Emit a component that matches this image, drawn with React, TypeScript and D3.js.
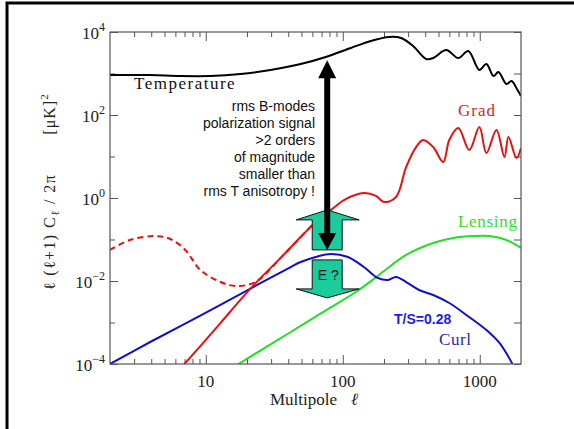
import React, { useRef, useEffect } from "react";
import * as d3 from "d3";

// values: multipole ell -> l(l+1)C_l/2pi in [uK]^2
const TEMP_L = [2, 3.93, 6.5, 10.8, 17.9, 29.7, 49.3, 75.2, 114.6, 160.6, 217.7, 266.5, 326, 406, 457, 569, 697, 825, 993, 1118, 1258, 1369, 1566, 1704, 1886, 2000];
const TEMP_V = [920, 920, 871, 871, 973, 1215, 1690, 2500, 4120, 6070, 7580, 7170, 4600, 2240, 2360, 3680, 2360, 3480, 1215, 1690, 871, 1087, 558, 659, 400, 287];

const GRAD_L = [6.97, 9.13, 12.8, 17.9, 23.1, 35.2, 49.3, 63.5, 81.8, 105, 142.7, 174.8, 200, 244.9, 290, 343, 386, 457, 541, 599, 697, 839, 993, 1118, 1323, 1514, 1620, 1854, 2000];
const GRAD_V = [1e-4, 2.7e-4, 9.7e-4, 3.5e-3, 8.9e-3, 0.036, 0.115, 0.264, 0.514, 0.94, 1.32, 1.12, 0.8, 1.06, 5.58, 16.9, 25, 16.9, 7.37, 25, 48.6, 14.3, 51.4, 12.1, 43.5, 9.7, 29.5, 9.2, 16];

// reionization bump (dashed)
const REION_L = [2, 2.8, 4.27, 5.5, 7.09, 9.13, 12.8, 16.5, 23.1, 35.2, 49.3, 63.5, 81.8];
const REION_V = [0.0558, 0.0973, 0.121, 0.103, 0.0558, 0.0184, 0.00946, 0.00758, 0.0095, 0.036, 0.115, 0.264, 0.514];

const CURL_L = [2, 3.93, 9.13, 21.2, 41.7, 49.3, 63.5, 81.8, 109, 142.7, 180.7, 214, 244.9, 290, 361, 457, 599, 798, 1118, 1392, 1733];
const CURL_V = [1e-4, 3.39e-4, 1.47e-3, 6.59e-3, 0.0217, 0.0287, 0.0379, 0.0448, 0.0379, 0.0217, 0.0118, 0.01057, 0.0125, 0.00946, 0.00607, 0.0046, 0.00295, 0.00152, 6.59e-4, 3.21e-4, 1e-4];

const LENS_L = [17.3, 41.7, 69.1, 131, 183.8, 290, 457, 641, 898, 1176, 1566, 2000];
const LENS_V = [1e-4, 5.9e-4, 1.65e-3, 0.00607, 0.01396, 0.0424, 0.0824, 0.1086, 0.121, 0.121, 0.0973, 0.0624];

const X_MAJOR = [10, 100, 1000];
const Y_MAJOR_EXP = [4, 2, 0, -2, -4];
const Y_MINOR_EXP = [3, 1, -1, -3];

const NOTE_LINES = ["rms B-modes", "polarization signal", ">2 orders", "of magnitude", "smaller than", "rms T anisotropy !"];

// arrow annotation: ell position, top tip (temperature) and bottom tip values
const ARROW_ELL = 77;
const ARROW_TOP = 2100;
const ARROW_BOTTOM = 0.056;
const GAP_VALUE = 0.045;

const SERIF = "'Liberation Serif', 'DejaVu Serif', serif";
const SANS = "'Liberation Sans', Arial, sans-serif";

function App() {
  const svgRef = useRef(null);

  useEffect(() => {
    const svg = d3.select(svgRef.current);
    const width = 574;
    const height = 429;
    const margin = { top: 32, right: 53, bottom: 65, left: 110 };
    svg.selectAll("*").remove();

    const x = d3.scaleLog().domain([2, 2000]).range([margin.left, width - margin.right]);
    const y = d3.scaleLog().domain([1e-4, 1e4]).range([height - margin.bottom, margin.top]);
    const x0 = margin.left, x1 = width - margin.right;
    const y0 = height - margin.bottom, y1 = margin.top;
    const axisColor = "#555";

    svg.append("rect").attr("width", width).attr("height", height).attr("fill", "#fff");
    // outer frame (only top and left visible)
    svg.append("rect").attr("x", 7).attr("y", 3).attr("width", 600).attr("height", 460)
      .attr("fill", "none").attr("stroke", "#000").attr("stroke-width", 3);

    svg.append("clipPath").attr("id", "plotclip")
      .append("rect").attr("x", x0).attr("y", y1).attr("width", x1 - x0).attr("height", y0 - y1);

    // ticks
    const minorX = [];
    [1, 10, 100, 1000].forEach(d => { for (let k = 2; k <= 9; k++) minorX.push(d * k); });
    const xMinor = minorX.filter(v => v > 2 && v < 2000 && !X_MAJOR.includes(v));
    const noLabel = () => "";
    const styleAxis = g => {
      g.select(".domain").remove();
      g.selectAll("line").attr("stroke", axisColor);
    };
    svg.append("g").attr("transform", `translate(0,${y0})`)
      .call(d3.axisBottom(x).tickValues(xMinor).tickSize(-5).tickFormat(noLabel)).call(styleAxis);
    svg.append("g").attr("transform", `translate(0,${y0})`)
      .call(d3.axisBottom(x).tickValues(X_MAJOR).tickSize(-9).tickFormat(noLabel)).call(styleAxis);
    svg.append("g").attr("transform", `translate(0,${y1})`)
      .call(d3.axisTop(x).tickValues(xMinor).tickSize(-5).tickFormat(noLabel)).call(styleAxis);
    svg.append("g").attr("transform", `translate(0,${y1})`)
      .call(d3.axisTop(x).tickValues(X_MAJOR).tickSize(-9).tickFormat(noLabel)).call(styleAxis);

    const yMajor = Y_MAJOR_EXP.map(e => Math.pow(10, e));
    const yMinor = Y_MINOR_EXP.map(e => Math.pow(10, e));
    svg.append("g").attr("transform", `translate(${x0},0)`)
      .call(d3.axisLeft(y).tickValues(yMajor).tickSize(-8).tickFormat(noLabel)).call(styleAxis);
    svg.append("g").attr("transform", `translate(${x0},0)`)
      .call(d3.axisLeft(y).tickValues(yMinor).tickSize(-5).tickFormat(noLabel)).call(styleAxis);
    svg.append("g").attr("transform", `translate(${x1},0)`)
      .call(d3.axisRight(y).tickValues(yMajor.concat(yMinor)).tickSize(-7).tickFormat(noLabel)).call(styleAxis);

    // x tick labels
    svg.append("g").selectAll("text").data(X_MAJOR).join("text")
      .attr("x", d => x(d)).attr("y", y0 + 23)
      .attr("text-anchor", "middle")
      .style("font-family", SERIF).style("font-size", "17px").attr("fill", "#222")
      .text(d => d);

    // y tick labels 10^e
    const yl = svg.append("g").selectAll("text").data(Y_MAJOR_EXP).join("text")
      .attr("x", 105).attr("y", d => y(Math.pow(10, d)) + 7)
      .attr("text-anchor", "end")
      .style("font-family", SERIF).style("font-size", "17px").attr("fill", "#222");
    yl.append("tspan").text("10");
    yl.append("tspan").attr("dy", -8).style("font-size", "12px")
      .text(d => (d < 0 ? "\u2212" + Math.abs(d) : String(d)));

    // axis titles
    const xt = svg.append("text").attr("x", 270).attr("y", 405)
      .style("font-family", SERIF).style("font-size", "17px").attr("fill", "#222");
    xt.append("tspan").text("Multipole");
    xt.append("tspan").attr("dx", 14).style("font-style", "italic").text("\u2113");

    const yt1 = svg.append("text").attr("transform", "translate(55,232) rotate(-90)")
      .attr("text-anchor", "middle").style("letter-spacing", "1.4px")
      .style("font-family", SERIF).style("font-size", "16px").attr("fill", "#222");
    yt1.append("tspan").text("\u2113 (\u2113+1) C");
    yt1.append("tspan").attr("dy", 4).style("font-size", "11px").text("\u2113");
    yt1.append("tspan").attr("dy", -4).text(" / 2\u03c0");

    const yt2 = svg.append("text").attr("transform", "translate(55,114) rotate(-90)")
      .attr("text-anchor", "middle").style("letter-spacing", "1px")
      .style("font-family", SERIF).style("font-size", "16px").attr("fill", "#222");
    yt2.append("tspan").text("[\u03bcK]");
    yt2.append("tspan").attr("dy", -7).style("font-size", "11px").text("2");

    // curves
    const line = d3.line().x(d => x(d[0])).y(d => y(d[1])).curve(d3.curveCatmullRom.alpha(0.5));
    const zip = (a, b) => a.map((v, i) => [v, b[i]]);
    const curves = svg.append("g").attr("clip-path", "url(#plotclip)");
    const series = [
      { data: zip(LENS_L, LENS_V), color: "#22e022", dash: null },
      { data: zip(CURL_L, CURL_V), color: "#1010c8", dash: null },
      { data: zip(REION_L, REION_V), color: "#e81010", dash: "6,4" },
      { data: zip(GRAD_L, GRAD_V), color: "#e81010", dash: null },
      { data: zip(TEMP_L, TEMP_V), color: "#000", dash: null },
    ];
    curves.selectAll("path").data(series).join("path")
      .attr("d", d => line(d.data))
      .attr("fill", "none")
      .attr("stroke", d => d.color)
      .attr("stroke-width", 2)
      .attr("stroke-dasharray", d => d.dash);

    // plot frame
    svg.append("rect").attr("x", x0).attr("y", y1).attr("width", x1 - x0).attr("height", y0 - y1)
      .attr("fill", "none").attr("stroke", axisColor).attr("stroke-width", 1.2);

    // curve labels
    const label = (txt, lx, ly, color, spacing) => svg.append("text")
      .attr("x", lx).attr("y", ly).attr("fill", color)
      .style("font-family", SERIF).style("font-size", "17px").style("letter-spacing", spacing + "px")
      .text(txt);
    label("Temperature", 134, 89, "#111", 1.5);
    label("Grad", 458, 116, "#d02828", 1);
    label("Lensing", 458, 227, "#30dd30", 0.7);
    label("Curl", 439, 345, "#2a2aa8", 0.6);

    svg.append("text").attr("x", 394).attr("y", 324).attr("fill", "#1c1cf0")
      .style("font-family", SANS).style("font-size", "14px").style("font-weight", "bold")
      .text("T/S=0.28");

    svg.append("g").selectAll("text").data(NOTE_LINES).join("text")
      .attr("x", 315).attr("y", (d, i) => 111 + i * 17)
      .attr("text-anchor", "end")
      .style("font-family", SANS).style("font-size", "14px").attr("fill", "#111")
      .text(d => d);

    // teal block arrows around the B-mode gap
    const cx = x(ARROW_ELL);
    const gy = y(GAP_VALUE);
    const teal = "#1ccb9b";
    const upBase = gy - 4, downTop = gy + 6;
    const upArrow = [
      [cx - 15, upBase], [cx - 15, upBase - 30], [cx - 31, upBase - 30], [cx, upBase - 40],
      [cx + 32, upBase - 30], [cx + 15, upBase - 30], [cx + 15, upBase],
    ];
    const downArrow = [
      [cx - 15, downTop], [cx + 15, downTop], [cx + 15, downTop + 29], [cx + 32, downTop + 29],
      [cx, downTop + 38], [cx - 31, downTop + 29], [cx - 15, downTop + 29],
    ];
    svg.append("g").selectAll("polygon").data([upArrow, downArrow]).join("polygon")
      .attr("points", d => d.map(p => p.join(",")).join(" "))
      .attr("fill", teal).attr("stroke", "#111").attr("stroke-width", 1);

    svg.append("text").attr("x", cx + 1).attr("y", downTop + 20)
      .attr("text-anchor", "middle")
      .style("font-family", SANS).style("font-size", "14px").attr("fill", "#111")
      .text("E ?");

    // black double arrow
    const yTop = y(ARROW_TOP), yBot = y(ARROW_BOTTOM);
    svg.append("rect").attr("x", cx - 3).attr("y", yTop + 16).attr("width", 6).attr("height", yBot - yTop - 32)
      .attr("fill", "#000");
    svg.append("polygon")
      .attr("points", [[cx - 9, yTop + 18], [cx, yTop], [cx + 9, yTop + 18]].map(p => p.join(",")).join(" "))
      .attr("fill", "#000");
    svg.append("polygon")
      .attr("points", [[cx - 9, yBot - 17], [cx, yBot], [cx + 9, yBot - 17]].map(p => p.join(",")).join(" "))
      .attr("fill", "#000");
  }, []);

  return (
    <svg
      ref={svgRef}
      width={574}
      height={429}
      style={{ position: "absolute", left: 0, top: 0 }}
    ></svg>
  );
}

export default App;
